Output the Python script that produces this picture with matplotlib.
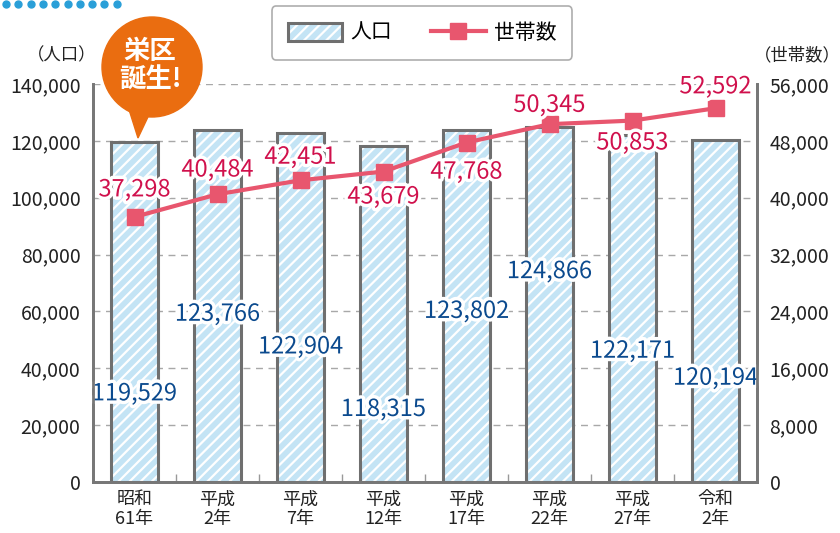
import numpy as np
import matplotlib.pyplot as plt
import matplotlib.patheffects as pe
from matplotlib.patches import Ellipse, Polygon, Patch
from matplotlib.lines import Line2D

plt.rcParams['font.family'] = ['Noto Sans CJK JP', 'DejaVu Sans']
plt.rcParams['hatch.linewidth'] = 1.6

# データ
years = ['昭和\n61年', '平成\n2年', '平成\n7年', '平成\n12年', '平成\n17年', '平成\n22年', '平成\n27年', '令和\n2年']
population = [119529, 123766, 122904, 118315, 123802, 124866, 122171, 120194]
households = [37298, 40484, 42451, 43679, 47768, 50345, 50853, 52592]
# ラベルの縦位置（人口は左軸、世帯数は右軸の値）
pop_label_y = [31000, 59000, 47500, 25500, 60000, 74000, 46000, 36500]
hh_label_y = [41100, 43900, 45700, 40100, 43600, 53000, 47700, 55600]

bar_face = '#c4e4f5'
bar_edge = '#6f6f6f'
line_col = '#e8566e'
hh_text = '#d0104c'
pop_text = '#0b4a8e'
grid_col = '#a8a8a8'

fig = plt.figure(figsize=(8.4, 5.33), dpi=100)
ax = fig.add_axes([93/840, 1-482/533, 664/840, 398/533])
ax2 = ax.twinx()

x = np.arange(len(years))
ax.set_xlim(-0.5, len(years)-0.5)
ax.set_ylim(0, 140000)
ax2.set_ylim(0, 56000)

# グリッド
for v in range(20000, 140001, 20000):
    ax.axhline(v, color=grid_col, lw=1, ls=(0, (5, 4)), zorder=0)

# 棒（斜線は白、枠は灰色）
ax.bar(x, population, width=0.57, color=bar_face, edgecolor='white', lw=0, hatch='///', zorder=2)
ax.bar(x, population, width=0.57, facecolor='none', edgecolor=bar_edge, lw=2.2, zorder=3)

ax.set_xticks(x)
ax.set_xticklabels(years, fontsize=13, color='#222222', linespacing=1.15)
ax.set_xticks(np.arange(0.5, len(years)-1, 1), minor=True)
ax.tick_params(axis='x', which='major', length=0, pad=6)
ax.tick_params(axis='x', which='minor', length=6, direction='in', color='#999999', width=1)

ax.set_yticks(range(0, 140001, 20000))
ax.set_yticklabels([f'{v:,}' for v in range(0, 140001, 20000)], fontsize=14, color='#222222')
ax.tick_params(axis='y', length=0, pad=9)

ax2.set_yticks(range(0, 56001, 8000))
ax2.set_yticklabels([f'{v:,}' for v in range(0, 56001, 8000)], fontsize=14, color='#222222')
ax2.tick_params(axis='y', length=0, pad=9)

for a in (ax, ax2):
    a.spines['top'].set_visible(False)
    for s in ['left', 'right', 'bottom']:
        a.spines[s].set_color('#777777')
        a.spines[s].set_linewidth(2)

# 世帯数の線
ax2.plot(x, households, color=line_col, lw=3, marker='s', markersize=11, zorder=5, clip_on=False)
ax2.set_zorder(ax.get_zorder() + 1)
ax2.patch.set_visible(False)

stroke = [pe.withStroke(linewidth=5, foreground='white')]
for i, v in enumerate(population):
    ax.text(x[i], pop_label_y[i], f'{v:,}', ha='center', va='center', fontsize=17,
            color=pop_text, path_effects=stroke, zorder=6)
for i, v in enumerate(households):
    ax2.text(x[i], hh_label_y[i], f'{v:,}', ha='center', va='center', fontsize=17,
             color=hh_text, path_effects=stroke, zorder=7)

fig.text(62/840, 1-55/533, '（人口）', ha='center', va='center', fontsize=12.5, color='#222222')
fig.text(797/840, 1-55/533, '（世帯数）', ha='center', va='center', fontsize=12.5, color='#222222')

# 吹き出し
fig.add_artist(Polygon([(126/840, 1-100/533), (156/840, 1-100/533), (138/840, 1-138/533)],
                       closed=True, transform=fig.transFigure, color='#ea6d10', zorder=10))
fig.add_artist(Ellipse((152/840, 1-67/533), 100/840, 100/533, transform=fig.transFigure,
                       color='#ea6d10', zorder=10))
fig.text(150/840, 1-66/533, '栄区\n誕生!', ha='center', va='center', fontsize=19, fontweight='bold',
         color='white', linespacing=1.1, zorder=11)

# 左上の点線
fig.add_artist(Line2D(np.arange(6, 120, 12.3)/840, np.full(10, 1-4/533), transform=fig.transFigure,
                      ls='none', marker='o', markersize=5, color='#2a9fd8'))

# 凡例
bar_handle = (Patch(facecolor=bar_face, edgecolor='white', lw=0, hatch='///'),
              Patch(facecolor='none', edgecolor=bar_edge, lw=2.2))
line_handle = Line2D([0], [0], color=line_col, lw=3, marker='s', markersize=11)
leg = fig.legend([bar_handle, line_handle], ['人口', '世帯数'], ncol=2, loc='center',
                 bbox_to_anchor=(422/840, 1-33/533), fontsize=15, frameon=True, fancybox=True,
                 edgecolor='#999999', handlelength=2.6, handleheight=1.0, handletextpad=0.4,
                 columnspacing=1.9, borderpad=0.75)
leg.get_frame().set_linewidth(1.2)

fig.savefig('out.png', dpi=100)
